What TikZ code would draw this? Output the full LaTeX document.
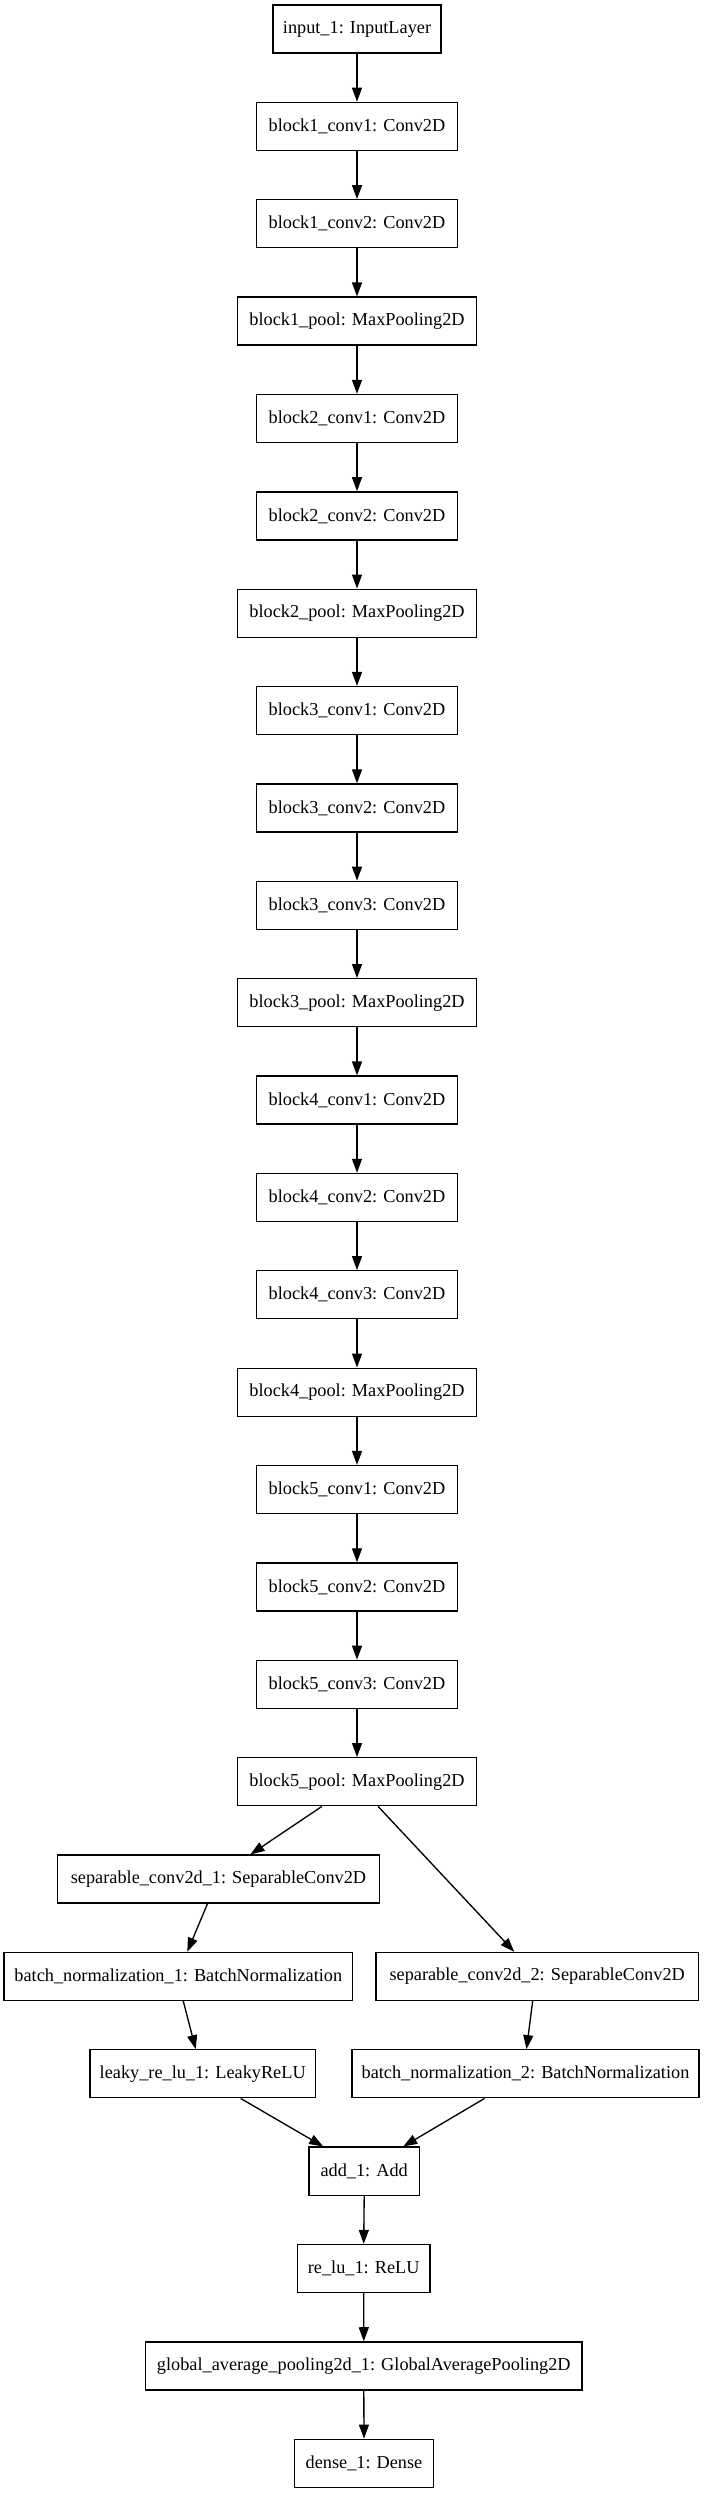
\documentclass[tikz,border=0pt]{standalone}
\usepackage{fontspec}
\setmainfont{Liberation Serif}
\usetikzlibrary{arrows.meta}
\begin{document}
\begin{tikzpicture}[x=0.75pt,y=-0.75pt,
  layer/.style={draw=black, line width=1pt, inner sep=0pt, minimum height=36pt,
    minimum width=#1*0.75pt, font=\fontsize{13.7pt}{16pt}\selectfont},
  edge/.style={-{Triangle[length=10.5pt,width=7.5pt]}, line width=1pt}]
\useasboundingbox (0,0) rectangle (704,2493);
\def\p{97.37}
\node[layer=168]   (in)   at (357,{29+0*\p})  {input\_1: InputLayer};
\node[layer=201]   (b1c1) at (357,{29+1*\p})  {block1\_conv1: Conv2D};
\node[layer=201]   (b1c2) at (357,{29+2*\p})  {block1\_conv2: Conv2D};
\node[layer=239.4] (b1p)  at (357,{29+3*\p})  {block1\_pool: MaxPooling2D};
\node[layer=201]   (b2c1) at (357,{29+4*\p})  {block2\_conv1: Conv2D};
\node[layer=201]   (b2c2) at (357,{29+5*\p})  {block2\_conv2: Conv2D};
\node[layer=239.4] (b2p)  at (357,{29+6*\p})  {block2\_pool: MaxPooling2D};
\node[layer=201]   (b3c1) at (357,{29+7*\p})  {block3\_conv1: Conv2D};
\node[layer=201]   (b3c2) at (357,{29+8*\p})  {block3\_conv2: Conv2D};
\node[layer=201]   (b3c3) at (357,{29+9*\p})  {block3\_conv3: Conv2D};
\node[layer=239.4] (b3p)  at (357,{29+10*\p}) {block3\_pool: MaxPooling2D};
\node[layer=201]   (b4c1) at (357,{29+11*\p}) {block4\_conv1: Conv2D};
\node[layer=201]   (b4c2) at (357,{29+12*\p}) {block4\_conv2: Conv2D};
\node[layer=201]   (b4c3) at (357,{29+13*\p}) {block4\_conv3: Conv2D};
\node[layer=239.4] (b4p)  at (357,{29+14*\p}) {block4\_pool: MaxPooling2D};
\node[layer=201]   (b5c1) at (357,{29+15*\p}) {block5\_conv1: Conv2D};
\node[layer=201]   (b5c2) at (357,{29+16*\p}) {block5\_conv2: Conv2D};
\node[layer=201]   (b5c3) at (357,{29+17*\p}) {block5\_conv3: Conv2D};
\node[layer=239.4] (b5p)  at (357,{29+18*\p}) {block5\_pool: MaxPooling2D};
\node[layer=322.3] (sep1) at (218.5,{29+19*\p}) {separable\_conv2d\_1: SeparableConv2D};
\node[layer=348.7] (bn1)  at (178.3,{29+20*\p}) {batch\_normalization\_1: BatchNormalization};
\node[layer=322.3] (sep2) at (537.2,{29+20*\p}) {separable\_conv2d\_2: SeparableConv2D};
\node[layer=225.3] (leak) at (202.7,{29+21*\p}) {leaky\_re\_lu\_1: LeakyReLU};
\node[layer=347]   (bn2)  at (525.5,{29+21*\p}) {batch\_normalization\_2: BatchNormalization};
\node[layer=110.3] (add)  at (364.2,{29+22*\p}) {add\_1: Add};
\node[layer=132.7] (relu) at (363.7,{29+23*\p}) {re\_lu\_1: ReLU};
\node[layer=436.3] (gap)  at (363.8,{29+24*\p}) {global\_average\_pooling2d\_1: GlobalAveragePooling2D};
\node[layer=138.6] (dense) at (364,{29+25*\p}) {dense\_1: Dense};
\foreach \a/\b in {in/b1c1,b1c1/b1c2,b1c2/b1p,b1p/b2c1,b2c1/b2c2,b2c2/b2p,b2p/b3c1,b3c1/b3c2,b3c2/b3c3,b3c3/b3p,b3p/b4c1,b4c1/b4c2,b4c2/b4c3,b4c3/b4p,b4p/b5c1,b5c1/b5c2,b5c2/b5c3,b5c3/b5p,add/relu,relu/gap,gap/dense}
  \draw[edge] (\a.south) -- (\b.north);
\draw[edge] ([xshift=-26.25pt]b5p.south) -- ([xshift=24pt]sep1.north);
\draw[edge] ([xshift=15.75pt]b5p.south) -- ([xshift=-17.25pt]sep2.north);
\draw[edge] ([xshift=-8.25pt]sep1.south) -- ([xshift=6.75pt]bn1.north);
\draw[edge] ([xshift=3.75pt]bn1.south) -- ([xshift=-5.25pt]leak.north);
\draw[edge] ([xshift=-3.4pt]sep2.south) -- ([xshift=0.75pt]bn2.north);
\draw[edge] ([xshift=28.5pt]leak.south) -- ([xshift=-30.75pt]add.north);
\draw[edge] ([xshift=-30.75pt]bn2.south) -- ([xshift=29.25pt]add.north);
\end{tikzpicture}
\end{document}
